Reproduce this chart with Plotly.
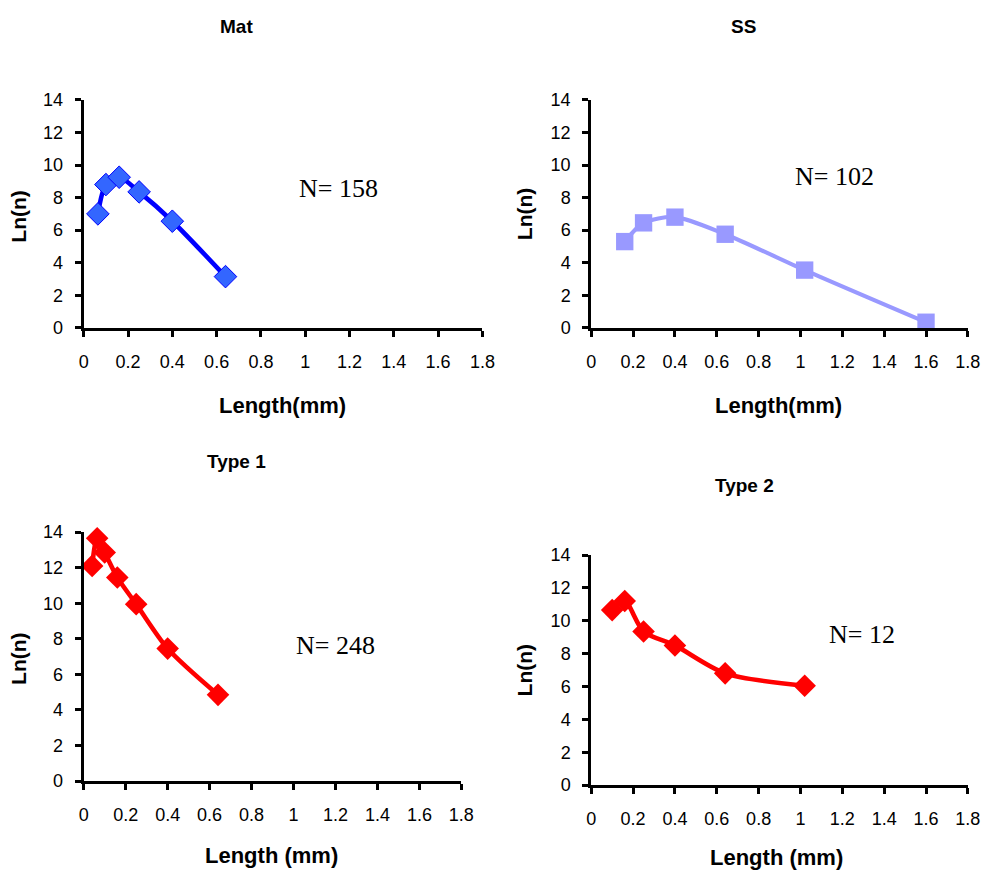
import plotly.graph_objects as go

# ---------------- data ----------------
mat_x = [0.064, 0.10, 0.16, 0.25, 0.40, 0.64]
mat_y = [7.0, 8.8, 9.25, 8.35, 6.55, 3.15]

ss_x = [0.16, 0.25, 0.40, 0.64, 1.02, 1.60]
ss_y = [5.3, 6.45, 6.8, 5.75, 3.55, 0.35]

t1_x = [0.04, 0.064, 0.10, 0.16, 0.25, 0.40, 0.64]
t1_y = [12.1, 13.65, 12.85, 11.45, 9.95, 7.45, 4.85]

t2_x = [0.10, 0.16, 0.25, 0.40, 0.64, 1.02]
t2_y = [10.65, 11.2, 9.35, 8.5, 6.8, 6.05]

panel_titles = ["Mat", "SS", "Type 1", "Type 2"]
n_labels = ["N= 158", "N= 102", "N= 248", "N= 12"]
x_titles = ["Length(mm)", "Length(mm)", "Length (mm)", "Length (mm)"]
y_title = "Ln(n)"

# ---------------- layout helpers ----------------
# positions below are given in target-picture pixels and mapped to figure pixels
S, B = 0.979, 8.0       # observed picture = S * page + B
W, H = 996, 880         # figure size (page body margin removed below)
K = 1 / S               # size compensation


def fpx(r):
    return (r - B) / S


def fx(r):
    return fpx(r) / W


def fy(r):
    return 1 - fpx(r) / H


# plot-area boxes in picture pixels: (left, right, top, bottom)
boxes = [
    (86.5, 484, 98, 326.5),
    (592.5, 968, 98, 326.5),
    (86.5, 463, 531, 780.5),
    (592.5, 968, 554, 784.5),
]

fig = go.Figure()

series = [
    (mat_x, mat_y, dict(color="#0000FF", width=4.5 * K),
     dict(symbol="diamond", size=17 * K, color="#3366FF", line=dict(color="#0000FF", width=1))),
    (ss_x, ss_y, dict(color="#9999FF", width=4 * K),
     dict(symbol="square", size=17 * K, color="#9999FF", line=dict(width=0))),
    (t1_x, t1_y, dict(color="#FF0000", width=4.5 * K),
     dict(symbol="diamond", size=17 * K, color="#FF0000", line=dict(width=0))),
    (t2_x, t2_y, dict(color="#FF0000", width=4.5 * K),
     dict(symbol="diamond", size=17 * K, color="#FF0000", line=dict(width=0))),
]

tick_font = dict(family="Liberation Sans, Arial, sans-serif", size=round(18 * K), color="black")

for i, (xs, ys, ln, mk) in enumerate(series):
    ax = "" if i == 0 else str(i + 1)
    fig.add_trace(go.Scatter(
        x=xs, y=ys, mode="lines+markers",
        line=dict(shape="spline", smoothing=0.8, **ln),
        marker=mk, cliponaxis=False, showlegend=False,
        xaxis="x" + ax, yaxis="y" + ax,
    ))
    l, r, t, b = boxes[i]
    common = dict(
        showline=True, linecolor="black", linewidth=3,
        ticks="outside", ticklen=6, tickwidth=3, tickcolor="black",
        showgrid=False, zeroline=False, tickfont=tick_font,
        fixedrange=True,
    )
    fig.update_layout({
        "xaxis" + ax: dict(domain=[fx(l), fx(r)], range=[0, 1.8], dtick=0.2, tick0=0,
                           anchor="y" + ax, ticklabelstandoff=9, **common),
        "yaxis" + ax: dict(domain=[fy(b), fy(t)], range=[0, 14], dtick=2, tick0=0,
                           anchor="x" + ax, ticklabelstandoff=8, **common),
    })

# annotation centres in picture pixels
title_pos = [(239, 25), (744, 25), (239, 460), (745, 484)]
n_pos = [(341, 187), (835, 175), (338, 645), (862, 634)]
xt_pos = [(285, 404), (779, 404), (274, 855), (777, 857)]
yt_pos = [(22, 215), (526, 213), (22, 658), (526, 670)]

ann = []
for i in range(4):
    base = dict(xref="paper", yref="paper", showarrow=False, xanchor="center", yanchor="middle")
    ann.append(dict(x=fx(title_pos[i][0]), y=fy(title_pos[i][1]),
                    text="<b>%s</b>" % panel_titles[i],
                    font=dict(family="Liberation Sans, Arial, sans-serif", size=round(19 * K), color="black"), **base))
    ann.append(dict(x=fx(n_pos[i][0]), y=fy(n_pos[i][1]),
                    text=n_labels[i],
                    font=dict(family="Liberation Serif, Times New Roman, serif", size=round(25 * K), color="black"), **base))
    ann.append(dict(x=fx(xt_pos[i][0]), y=fy(xt_pos[i][1]),
                    text="<b>%s</b>" % x_titles[i],
                    font=dict(family="Liberation Sans, Arial, sans-serif", size=round(22 * K), color="black"), **base))
    ann.append(dict(x=fx(yt_pos[i][0]), y=fy(yt_pos[i][1]),
                    text="<b>%s</b>" % y_title, textangle=-90,
                    font=dict(family="Liberation Sans, Arial, sans-serif", size=round(21 * K), color="black"), **base))

fig.update_layout(
    width=W, height=H,
    margin=dict(l=0, r=0, t=0, b=0),
    paper_bgcolor="white", plot_bgcolor="white",
    annotations=ann,
    showlegend=False,
)

fig.write_html("out.html", config={"displayModeBar": False},
               post_script="document.body.style.margin='0';document.body.style.overflow='hidden';")
